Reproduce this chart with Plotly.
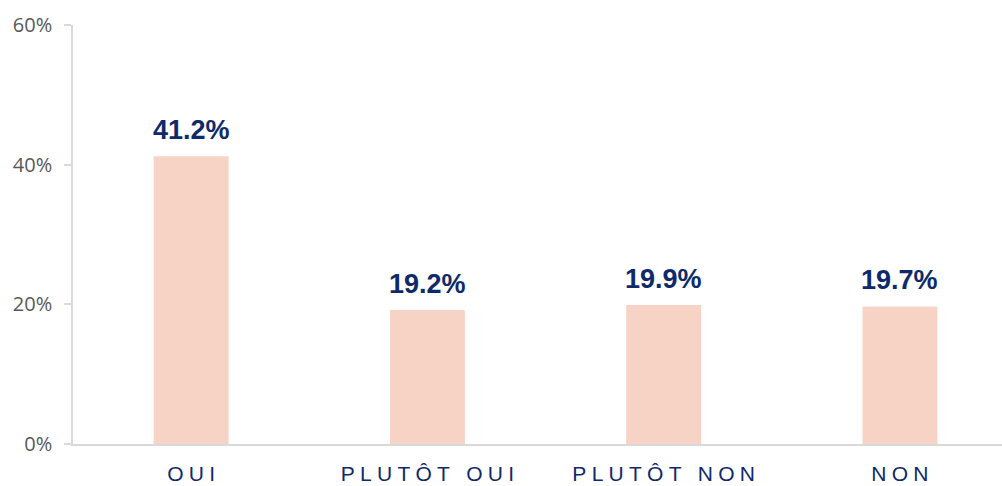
import plotly.graph_objects as go

# Survey answers and their shares (%)
categories = ["OUI", "PLUTÔT OUI", "PLUTÔT NON", "NON"]
shares = [41.2, 19.2, 19.9, 19.7]
y_ticks = [0, 20, 40, 60]
y_tick_text = ["0%", "20%", "40%", "60%"]

NAVY = "#0e2a6a"
BAR = "#f7d3c6"
AXIS = "#d9d9d9"
SP = "\u2005"  # spacing between letters of category labels


def spaced(label):
    return SP.join(label)


fig = go.Figure(
    go.Bar(
        x=list(range(len(categories))),
        y=shares,
        width=0.317,
        marker=dict(color=BAR, line=dict(width=0)),
        hoverinfo="skip",
    )
)

for i, v in enumerate(shares):
    fig.add_annotation(
        x=i, y=v, text=f"<b>{v:.1f}%</b>", showarrow=False,
        yanchor="bottom", yshift=9,
        font=dict(family="Liberation Sans, Arial, sans-serif", size=27, color=NAVY),
    )

fig.update_layout(
    width=1002, height=486,
    margin=dict(l=73, r=0, t=25, b=42),
    paper_bgcolor="white", plot_bgcolor="white",
    showlegend=False,
    xaxis=dict(
        range=[-0.5, 3.432],
        tickmode="array",
        tickvals=list(range(len(categories))),
        ticktext=[spaced(c) for c in categories],
        tickfont=dict(family="Liberation Sans, Arial, sans-serif", size=21, color=NAVY),
        showgrid=False, zeroline=False,
        showline=True, linecolor=AXIS, linewidth=2,
        ticks="", ticklabelstandoff=10, fixedrange=True,
    ),
    yaxis=dict(
        range=[0, 60],
        tickmode="array",
        tickvals=y_ticks,
        ticktext=y_tick_text,
        tickfont=dict(family="Open Sans, Arial, sans-serif", size=20, color="#595959"),
        showgrid=False, zeroline=False,
        showline=True, linecolor=AXIS, linewidth=1.5,
        ticks="outside", ticklen=7, tickcolor=AXIS, tickwidth=1.5,
        ticklabelstandoff=8, fixedrange=True,
    ),
)

fig.write_html("out.html", config={"displayModeBar": False})
